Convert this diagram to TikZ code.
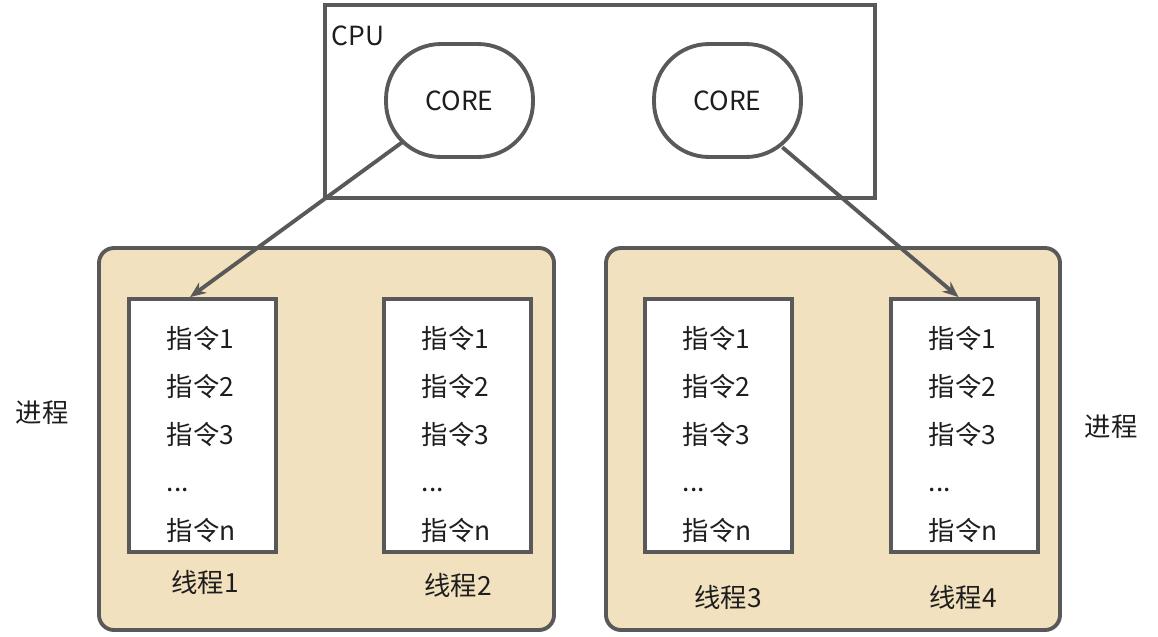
\documentclass[tikz,border=0pt]{standalone}
\usepackage{fontspec}
\setmainfont{Noto Sans CJK SC}
\usetikzlibrary{arrows.meta}
\definecolor{edgegray}{HTML}{595959}
\definecolor{procfill}{HTML}{F2E1BE}
\definecolor{txt}{HTML}{1E1E1E}

\tikzset{
  core/.style={draw=edgegray, rounded corners=1.1cm, minimum width=2.94cm, minimum height=2.26cm, inner sep=0pt},
  proc/.style={draw=edgegray, fill=procfill, rounded corners=0.3cm},
  thread/.style={draw=edgegray, fill=white, minimum width=2.94cm, minimum height=5.06cm, inner sep=0pt},
  link/.style={draw=edgegray, -{Stealth[length=0.32cm,width=0.26cm]}}
}

\begin{document}
\begin{tikzpicture}[x=0.02cm, y=-0.02cm, line width=2.2pt, text=txt, font=\fontsize{15}{18}\selectfont]
\useasboundingbox (0,0) rectangle (1158,636);

% CPU = (325,5)--(875,198)
\draw[edgegray] (325,5) rectangle (875,198);
\node[anchor=west] (CPU) at (324,36) {CPU};

% two cores
\node[core] (C1) at (459.5,100.5) {CORE};
\node[core] (C2) at (727.5,100.5) {CORE};

% process boxes
\draw[proc] (99,248) rectangle (554,630);
\draw[proc] (606,248) rectangle (1060,630);
\node (L1) at (42,413) {进程};
\node (L2) at (1111,427) {进程};

% threads with their instructions
\foreach \n/\x/\lx/\ly in {1/129/205/582, 2/384/458/585, 3/645/728/597, 4/891/963/597} {
  \node[thread] (T\n) at (\x+73.5,425.5) {};
  \node[anchor=base west] (T\n-1) at (\x+30,348) {指令1};
  \node[anchor=base west] (T\n-2) at (\x+30,396) {指令2};
  \node[anchor=base west] (T\n-3) at (\x+30,444) {指令3};
  \node[anchor=base west] (T\n-4) at (\x+30,491) {...};
  \node[anchor=base west] (T\n-5) at (\x+30,540) {指令n};
  \node (N\n) at (\lx,\ly) {线程\n};
}

% core -> thread, started on the rounded border
\draw[link, shorten <=-0.48cm] (C1) -- ([xshift=-0.25cm]T1.north);
\draw[link, shorten <=-0.36cm] (C2) -- ([xshift=-0.12cm]T4.north);

\end{tikzpicture}
\end{document}
